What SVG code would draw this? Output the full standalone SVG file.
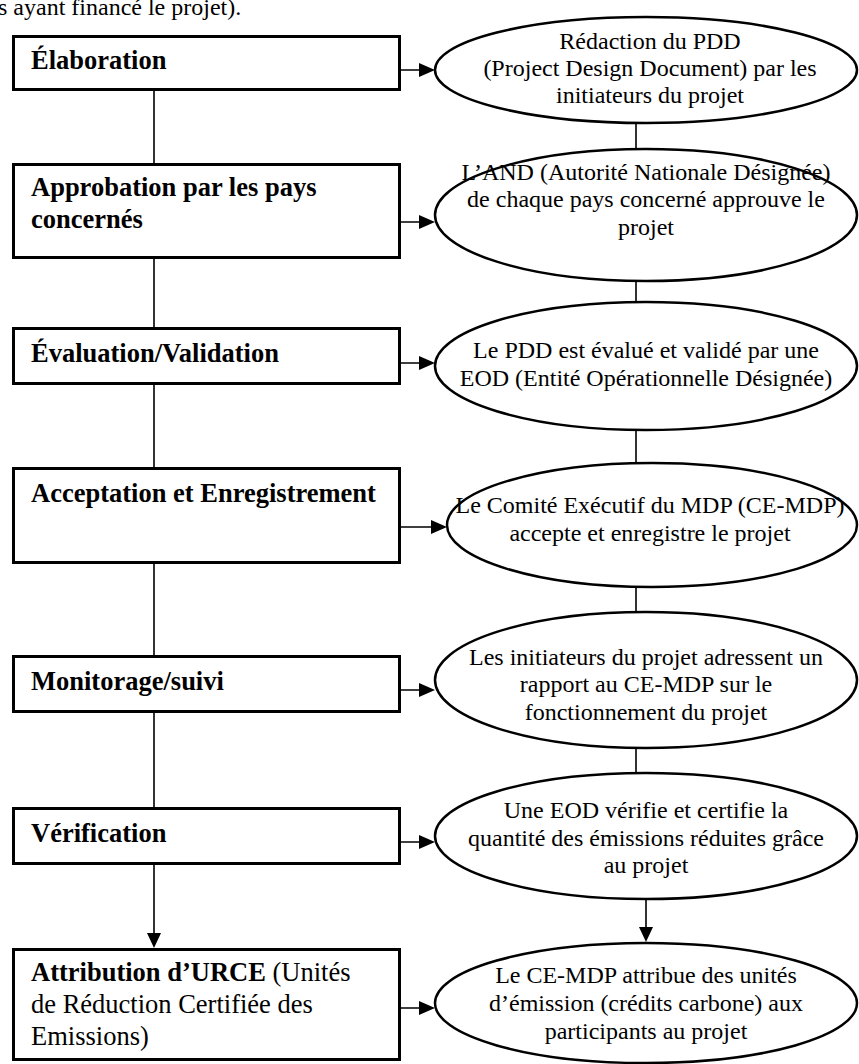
<svg xmlns="http://www.w3.org/2000/svg" width="859" height="1064" viewBox="0 0 859 1064">
<style>
.box{fill:#fff;stroke:#000;stroke-width:3}
.ell{fill:#fff;stroke:#000;stroke-width:2.5}
.con{fill:none;stroke:#000;stroke-width:1.6}
.hd{fill:#000}
.bt{font-family:"Liberation Serif","Times New Roman",serif;font-size:26.5px;font-weight:bold;fill:#000}
.br{font-family:"Liberation Serif","Times New Roman",serif;font-size:26.5px;font-weight:normal;fill:#000}
.et{font-family:"Liberation Serif","Times New Roman",serif;font-size:24px;fill:#000;text-anchor:middle}
.rt{font-family:"Liberation Serif","Times New Roman",serif;font-size:24px;fill:#000}
</style>
<text class="rt" x="-2" y="15">s ayant financé le projet).</text>
<g id="connectors">
<path class="con" d="M154 91V163M154 259V327M154 385V467M154 562V655M154 713V807M154 865V934"/>
<path class="hd" d="M147 933H161L154 948Z"/>
<path class="con" d="M636 123V149M636 281V301M636 430V463M636 587V612M636 747V773M646 899V928"/>
<path class="hd" d="M639 927H653L646 942Z"/>
<path class="con" d="M400 70H421M400 222H421M400 363H421M400 527H433M400 690H421M400 842H421M400 1008H421"/>
<path class="hd" d="M419 63L435 70L419 77ZM419 215L435 222L419 229ZM419 356L435 363L419 370ZM431 520L447 527L431 534ZM419 683L435 690L419 697ZM419 835L435 842L419 849ZM419 1001L435 1008L419 1015Z"/>
</g>
<g id="n1"><rect class="box" x="13.5" y="36.5" width="386" height="53"/><text class="bt" x="31" y="69">Élaboration</text></g>
<g id="n2"><rect class="box" x="13.5" y="164.5" width="386" height="93"/><text class="bt" x="31" y="196">Approbation par les pays</text><text class="bt" x="31" y="228">concernés</text></g>
<g id="n3"><rect class="box" x="13.5" y="328.5" width="386" height="55"/><text class="bt" x="31" y="362">Évaluation/Validation</text></g>
<g id="n4"><rect class="box" x="13.5" y="468.5" width="386" height="94"/><text class="bt" x="31" y="502">Acceptation et Enregistrement</text></g>
<g id="n5"><rect class="box" x="13.5" y="656.5" width="386" height="55"/><text class="bt" x="31" y="690">Monitorage/suivi</text></g>
<g id="n6"><rect class="box" x="13.5" y="808.5" width="386" height="55"/><text class="bt" x="31" y="842">Vérification</text></g>
<g id="n7"><rect class="box" x="13.5" y="949.5" width="386" height="110"/><text class="bt" x="31" y="981">Attribution d’URCE<tspan class="br"> (Unités</tspan></text><text class="br" x="31" y="1013">de Réduction Certifiée des</text><text class="br" x="31" y="1045">Emissions)</text></g>
<g id="e1"><ellipse class="ell" cx="646" cy="70" rx="211" ry="53"/><text class="et" x="650" y="49">Rédaction du PDD</text><text class="et" x="650" y="76">(Project Design Document) par les</text><text class="et" x="650" y="103">initiateurs du projet</text></g>
<g id="e2"><ellipse class="ell" cx="646" cy="215" rx="211" ry="66"/><text class="et" x="646" y="180">L’AND (Autorité Nationale Désignée)</text><text class="et" x="646" y="207">de chaque pays concerné approuve le</text><text class="et" x="646" y="235">projet</text></g>
<g id="e3"><ellipse class="ell" cx="646" cy="366" rx="211" ry="64"/><text class="et" x="646" y="358">Le PDD est évalué et validé par une</text><text class="et" x="646" y="386">EOD (Entité Opérationnelle Désignée)</text></g>
<g id="e4"><ellipse class="ell" cx="652" cy="525" rx="205" ry="62"/><text class="et" x="650" y="513">Le Comité Exécutif du MDP (CE-MDP)</text><text class="et" x="650" y="541">accepte et enregistre le projet</text></g>
<g id="e5"><ellipse class="ell" cx="646" cy="680" rx="211" ry="68"/><text class="et" x="646" y="665">Les initiateurs du projet adressent un</text><text class="et" x="646" y="692">rapport au CE-MDP sur le</text><text class="et" x="646" y="720">fonctionnement du projet</text></g>
<g id="e6"><ellipse class="ell" cx="646" cy="836" rx="211" ry="63"/><text class="et" x="646" y="818">Une EOD vérifie et certifie la</text><text class="et" x="646" y="846">quantité des émissions réduites grâce</text><text class="et" x="646" y="873">au projet</text></g>
<g id="e7"><ellipse class="ell" cx="646" cy="1003" rx="211" ry="60"/><text class="et" x="646" y="983">Le CE-MDP attribue des unités</text><text class="et" x="646" y="1011">d’émission (crédits carbone) aux</text><text class="et" x="646" y="1039">participants au projet</text></g>
</svg>
